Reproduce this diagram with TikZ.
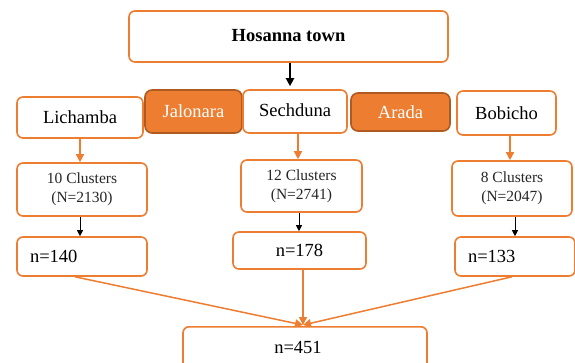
\documentclass[tikz,border=0pt]{standalone}
\usepackage{fontspec}
\setmainfont{Liberation Serif}
\usetikzlibrary{arrows.meta,calc}
\definecolor{org}{HTML}{ED7D31}
\definecolor{orgdark}{HTML}{AE5A21}
\tikzset{
  box/.style={draw=org, line width=1.6pt, rounded corners=6pt, fill=white, inner sep=0pt, font=\fontsize{18.5}{22}\selectfont},
  fbox/.style={draw=orgdark, line width=1.6pt, rounded corners=7pt, fill=org, text=white, inner sep=0pt, font=\fontsize{18.5}{22}\selectfont},
  cbox/.style={box, font=\fontsize{15.5}{19}\selectfont, align=center, text=black!85},
  oarr/.style={draw=org, line width=1.5pt, -{Triangle[length=8pt,width=8pt]}},
  barr/.style={draw=black, line width=1pt, -{Triangle[length=6pt,width=6pt]}},
}
\begin{document}
\begin{tikzpicture}[x=1pt,y=-1pt]
\useasboundingbox (0,0) rectangle (575,362);
\clip (0,0) rectangle (575,362);
% top
\node[box, minimum width=319pt, minimum height=51pt, font=\fontsize{18.5}{22}\selectfont\bfseries] (hos) at (288.5,36.5) {\raisebox{2pt}{Hosanna town}};
% second row
\node[box, minimum width=126pt, minimum height=41pt] (lich) at (80,117.5) {Lichamba};
\node[fbox, minimum width=97pt, minimum height=43pt] (jal) at (193.5,111.5) {Jalonara};
\node[box, minimum width=104pt, minimum height=43pt] (sech) at (295,111.5) {\raisebox{2pt}{Sechduna}};
\node[fbox, minimum width=99pt, minimum height=38pt] (arada) at (400.5,112) {Arada};
\node[box, minimum width=99pt, minimum height=44pt] (bob) at (506.5,113) {Bobicho};
% cluster row
\node[cbox, minimum width=130pt, minimum height=53pt] (c10) at (82,189.5) {10 Clusters\\(N=2130)};
\node[cbox, minimum width=121pt, minimum height=52pt] (c12) at (301.5,186) {12 Clusters\\(N=2741)};
\node[cbox, minimum width=120pt, minimum height=55pt] (c8) at (512,188.5) {8 Clusters\\(N=2047)};
% sample row
\node[box, minimum width=130pt, minimum height=39pt, text width=104pt, align=left] (n140) at (82,256.5) {n=140};
\node[box, minimum width=133pt, minimum height=37pt] (n178) at (299.5,250.5) {n=178};
\node[box, minimum width=120pt, minimum height=39pt, text width=94pt, align=left] (n133) at (515,256.5) {n=133};
% total
\node[box, minimum width=244pt, minimum height=42pt, anchor=north] (n451) at (305,326) {};
\node[font=\fontsize{18.5}{22}\selectfont] (t451) at (298,347) {n=451};
% helper coordinates
\coordinate (hs) at (hos.south -| 290,0);
\coordinate (ls) at (lich.south -| 80,0);
\coordinate (ss) at (sech.south -| 298,0);
\coordinate (bs) at (bob.south -| 510,0);
\coordinate (m) at ($(n451.north)+(-2,-1)$);
% connectors
\draw[line width=2pt, -{Triangle[length=8pt,width=8pt]}] (hs) -- ($(hs |- sech.north)+(0,-3)$);
\draw[oarr] (ls) -- (ls |- c10.north);
\draw[oarr] (ss) -- (ss |- c12.north);
\draw[oarr] (bs) -- (bs |- c8.north);
\draw[barr] (c10.south -| ls) -- (n140.north -| ls);
\draw[barr] (c12.south -| 299,0) -- (n178.north -| 299,0);
\draw[barr] (c8.south -| 515,0) -- (n133.north -| 515,0);
\draw[oarr] (n140.south -| 75,0) -- (m);
\draw[oarr] (n178.south -| 303,0) -- (m);
\draw[oarr] (n133.south -| 512,0) -- (m);
\end{tikzpicture}
\end{document}
